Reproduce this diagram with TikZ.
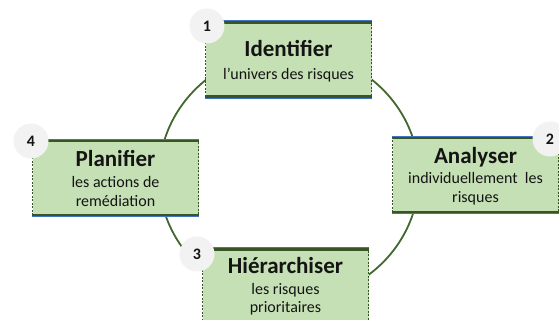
\documentclass[tikz,border=0pt]{standalone}
\usepackage{fontspec}
\setmainfont{Carlito}
\definecolor{boxfill}{HTML}{C5E0B4}
\definecolor{dgreen}{HTML}{375623}
\definecolor{ringc}{HTML}{41692F}
\definecolor{blueline}{HTML}{4472C4}
\definecolor{numfill}{HTML}{F2F2F2}
\definecolor{txt}{HTML}{141414}
\begin{document}
\begin{tikzpicture}[x=1pt,y=-1pt,
  stepbox/.style={draw=dgreen, dashed, dash pattern=on 2pt off 1.5pt, line width=0.7pt, fill=boxfill,
    minimum width=166pt, minimum height=77pt, inner sep=0pt},
  blueedge/.style={draw=blueline, line width=0.8pt},
  greenedge/.style={draw=dgreen, line width=2.6pt},
  numcirc/.style={circle, fill=numfill, minimum size=35pt, inner sep=0pt, text=txt,
    font=\fontsize{16}{19}\selectfont\bfseries},
  title/.style={anchor=base, inner sep=0pt, text=txt, font=\fontsize{23}{27}\selectfont\bfseries},
  sub/.style={anchor=base, inner sep=0pt, text=txt, font=\fontsize{16}{19}\selectfont},
  ring/.style={draw=ringc, line width=1.8pt}
]
\path[use as bounding box] (0,0) rectangle (559,320);
\clip (0,0) rectangle (559,320);
\fill[white] (0,0) rectangle (559,320);

\coordinate (c) at (289,176);
\draw[ring] (c) ellipse [x radius=130pt, y radius=125pt];

\node[stepbox] (b1) at (288.5,59.5) {};
\node[stepbox] (b2) at (475.5,175) {};
\node[stepbox] (b3) at (285.5,286.5) {};
\node[stepbox] (b4) at (115.5,178) {};

\foreach \b in {b1,b2,b3,b4}{
  \draw[greenedge] ([yshift=-1.9pt]\b.north west) -- ([yshift=-1.9pt]\b.north east);
  \draw[blueedge] (\b.north west) -- (\b.north east);
  \draw[greenedge] ([yshift=1.9pt]\b.south west) -- ([yshift=1.9pt]\b.south east);
  \draw[blueedge] (\b.south west) -- (\b.south east);
}

\node[numcirc] (n1) at (207,26) {1};
\node[numcirc] (n2) at (550,139) {2};
\node[numcirc] (n3) at (197,254) {3};
\node[numcirc] (n4) at (31,141) {4};

\node[title] (t1) at (288.5,57) {Identifier};
\node[sub] (s1) at (288.5,80) {l’univers des risques};

\node[title] (t2) at (475.5,163.5) {Analyser};
\node[sub] (s2a) at (475.5,184) {individuellement\ \ les};
\node[sub] (s2b) at (475.5,203) {risques};

\node[title] (t3) at (285.5,273) {Hiérarchiser};
\node[sub] (s3a) at (285.5,294) {les risques};
\node[sub] (s3b) at (285.5,312.5) {prioritaires};

\node[title] (t4) at (115.5,167) {Planifier};
\node[sub] (s4a) at (115.5,187.5) {les actions de};
\node[sub] (s4b) at (115.5,207) {remédiation};
\end{tikzpicture}
\end{document}
